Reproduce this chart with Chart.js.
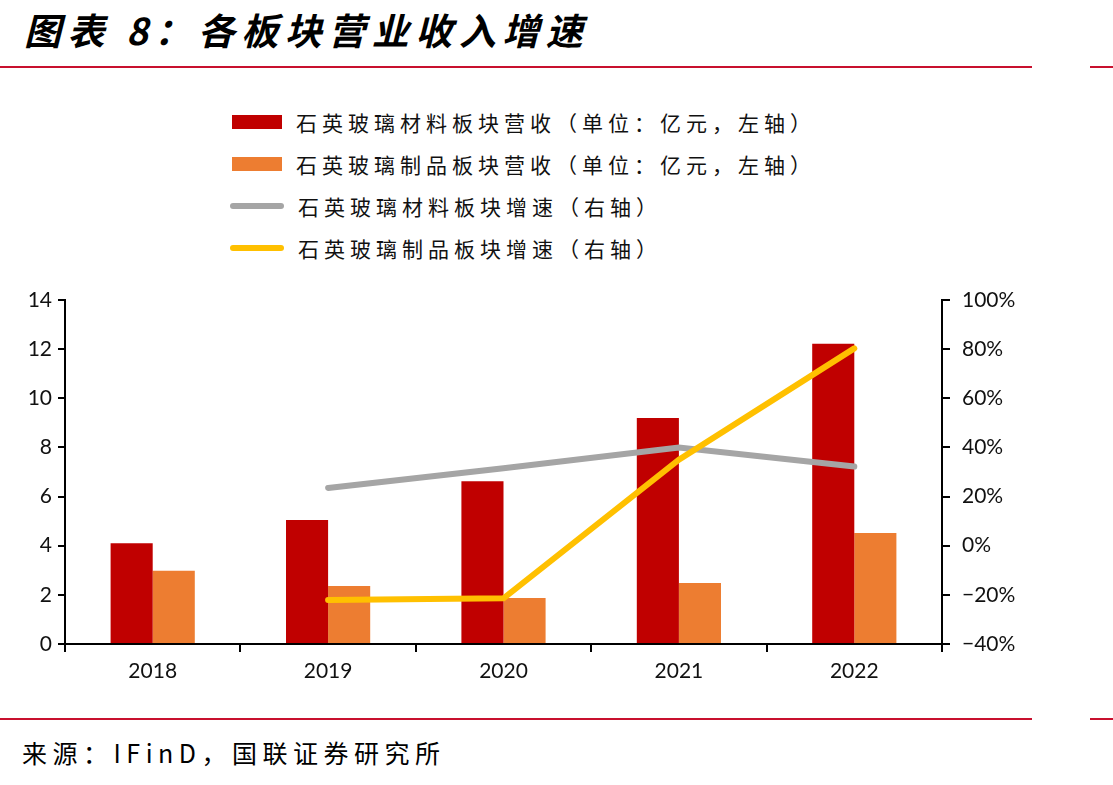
<!DOCTYPE html>
<html><head><meta charset="utf-8">
<script src="https://cdn.jsdelivr.net/npm/chart.js@4.4.0/dist/chart.umd.min.js"></script>
<style>
html,body{margin:0;padding:0;background:#fff;width:1113px;height:785px;overflow:hidden;font-family:"Noto Sans CJK SC",sans-serif;}
#title{position:absolute;left:24px;top:2px;font-size:37px;font-style:italic;font-weight:bold;letter-spacing:6.5px;color:#000;white-space:nowrap;}
.rule{position:absolute;height:2px;background:#c8102e;}
#footer{position:absolute;left:22px;top:734px;font-size:25px;letter-spacing:5.5px;color:#000;white-space:nowrap;}
#legend{position:absolute;left:230px;top:101px;}
.li{height:42px;display:flex;align-items:center;position:relative;}
.sw{width:52px;margin-right:14px;}
.lt{font-size:21px;letter-spacing:5px;color:#111;white-space:nowrap;}
#wrap{position:absolute;left:0;top:0;width:1113px;height:785px;}
</style></head>
<body>
<div id="title">图表 8：各板块营业收入增速</div>
<div class="rule" style="left:0;top:66px;width:1032px"></div>
<div class="rule" style="left:1090px;top:66px;width:23px"></div>
<div class="rule" style="left:0;top:718px;width:1032px"></div>
<div class="rule" style="left:1090px;top:718px;width:23px"></div>
<div id="legend"></div>
<div id="footer">来源：IFinD，国联证券研究所</div>
<div id="wrap"><canvas id="c" width="1113" height="785"></canvas></div>
<script>
const categories = ['2018','2019','2020','2021','2022'];
const materialRevenue = [4.1, 5.05, 6.62, 9.2, 12.22];
const productRevenue = [2.98, 2.36, 1.87, 2.48, 4.52];
const materialGrowth = [null, 23.5, 31.5, 40.0, 32.2];
const productGrowth = [null, -22.1, -21.4, 35.0, 80.3];
const leftTicks = {min:0, max:14, step:2};
const rightTicks = {min:-40, max:100, step:20};
const seriesNames = ['石英玻璃材料板块营收（单位：亿元，左轴）','石英玻璃制品板块营收（单位：亿元，左轴）','石英玻璃材料板块增速（右轴）','石英玻璃制品板块增速（右轴）'];
const colors = ['#c00000','#ed7d31','#a5a5a5','#ffc000'];

// legend
const lg = document.getElementById('legend');
seriesNames.forEach((n,i)=>{
  const d=document.createElement('div');d.className='li';
  const s=document.createElement('div');s.className='sw';
  if(i<2){s.style.height='14px';s.style.background=colors[i];s.style.marginLeft='2px';s.style.width='50px';}
  else{s.style.height='6px';s.style.background=colors[i];s.style.borderRadius='3px';s.style.width='54px';}
  const t=document.createElement('div');t.className='lt';t.textContent=n;
  d.appendChild(s);d.appendChild(t);lg.appendChild(d);
});

const tickFont = {family:'Lato, "Open Sans", sans-serif', size:21};
new Chart(document.getElementById('c'), {
  data:{
    labels:categories,
    datasets:[
      {type:'bar',label:seriesNames[0],data:materialRevenue,backgroundColor:colors[0],yAxisID:'y',order:2,categoryPercentage:0.48,barPercentage:1.0},
      {type:'bar',label:seriesNames[1],data:productRevenue,backgroundColor:colors[1],yAxisID:'y',order:2,categoryPercentage:0.48,barPercentage:1.0},
      {type:'line',label:seriesNames[2],data:materialGrowth,borderColor:colors[2],backgroundColor:colors[2],borderWidth:6,pointRadius:0,yAxisID:'y1',order:1,tension:0,borderCapStyle:'round'},
      {type:'line',label:seriesNames[3],data:productGrowth,borderColor:colors[3],backgroundColor:colors[3],borderWidth:6,pointRadius:0,yAxisID:'y1',order:0,tension:0,borderCapStyle:'round'}
    ]
  },
  options:{
    responsive:false,animation:false,
    layout:{padding:{top:300,bottom:101,left:0,right:0}},
    plugins:{legend:{display:false},tooltip:{enabled:false},title:{display:false}},
    scales:{
      x:{
        grid:{drawOnChartArea:false,drawTicks:true,tickLength:8,color:'#000',lineWidth:2,offset:true},
        border:{color:'#000',width:2},
        ticks:{color:'#111',font:tickFont,padding:7},
        afterFit(s){s.height=40;}
      },
      y:{
        position:'left',min:leftTicks.min,max:leftTicks.max,
        grid:{drawOnChartArea:false,drawTicks:true,tickLength:7,color:'#000',lineWidth:2},
        border:{color:'#000',width:2},
        ticks:{stepSize:leftTicks.step,color:'#111',font:tickFont,padding:6},
        afterFit(s){s.width=65;}
      },
      y1:{
        position:'right',min:rightTicks.min,max:rightTicks.max,
        grid:{drawOnChartArea:false,drawTicks:true,tickLength:8,color:'#000',lineWidth:2},
        border:{color:'#000',width:2},
        ticks:{stepSize:rightTicks.step,color:'#111',font:tickFont,padding:12,callback:v=>(v<0?'\u2212'+Math.abs(v):v)+'%'},
        afterFit(s){s.width=171;}
      }
    }
  }
});
</script>
</body></html>
